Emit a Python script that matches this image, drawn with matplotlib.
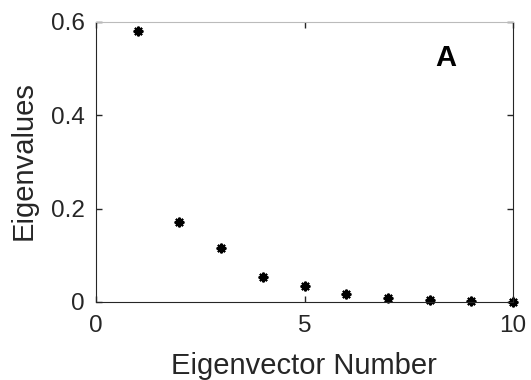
import numpy as np
import matplotlib.pyplot as plt

plt.rcParams['font.family'] = ['Liberation Sans', 'DejaVu Sans']

# data
eig_number = [1, 2, 3, 4, 5, 6, 7, 8, 9, 10]
eig_values = [0.581, 0.171, 0.116, 0.054, 0.034, 0.018, 0.009, 0.004, 0.0015, 0.0003]
x_ticks = [0, 5, 10]
y_ticks = [0, 0.2, 0.4, 0.6]
y_tick_labels = ['0', '0.2', '0.4', '0.6']

fig = plt.figure(figsize=(5.31, 3.8), dpi=100)
ax = fig.add_axes([96 / 531, 78 / 380, 417 / 531, 280 / 380])

# asterisk markers like MATLAB '*'
ax.plot(eig_number, eig_values, linestyle='none', marker=(8, 2, 0),
        markersize=7, color='black', markeredgewidth=1.5, clip_on=False)

ax.set_xlim(0, 10)
ax.set_ylim(0, 0.6)
ax.set_xticks(x_ticks)
ax.set_yticks(y_ticks)
ax.set_yticklabels(y_tick_labels)
ax.tick_params(direction='in', top=True, right=True, length=4, width=1,
               labelsize=17.5, colors='#262626')
ax.tick_params(axis='x', pad=9)
ax.tick_params(axis='y', pad=8)
for s in ['left', 'bottom', 'right']:
    ax.spines[s].set_color('#262626')
ax.spines['top'].set_color('#bbbbbb')

ax.set_xlabel('Eigenvector Number', fontsize=21, color='#262626')
ax.set_ylabel('Eigenvalues', fontsize=21, color='#262626')
ax.xaxis.set_label_coords(0.499, -0.179)
ax.yaxis.set_label_coords(-0.139, 0.504)

ax.text(0.84, 0.87, 'A', transform=ax.transAxes, fontsize=21,
        fontweight='bold', ha='center', va='center')

fig.savefig('out.png', dpi=100)
